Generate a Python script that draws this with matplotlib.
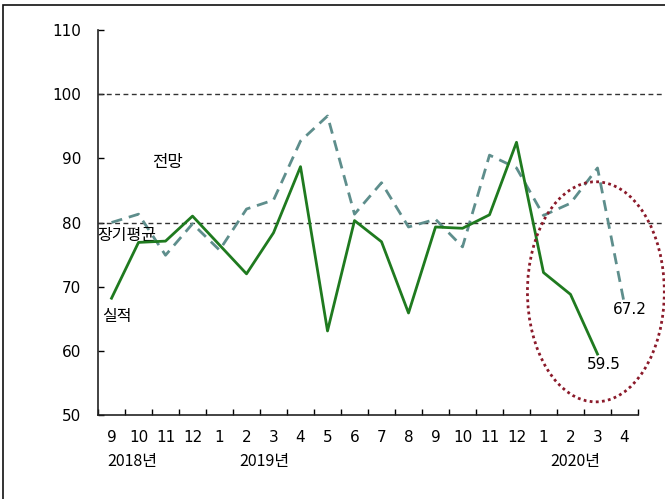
import matplotlib.pyplot as plt
from matplotlib.patches import Ellipse, Rectangle

plt.rcParams['font.family'] = ['Noto Sans CJK KR', 'DejaVu Sans']

# 월별 값 (2018.9 ~ 2020.4)
months = ['9', '10', '11', '12', '1', '2', '3', '4', '5', '6', '7', '8',
          '9', '10', '11', '12', '1', '2', '3', '4']
actual = [68.2, 76.9, 77.1, 81.0, 76.5, 72.0, 78.4, 88.7, 63.1, 80.3,
          77.0, 65.9, 79.3, 79.1, 81.2, 92.5, 72.2, 68.8, 59.5]
outlook = [80.0, 81.3, 74.9, 79.8, 75.7, 82.1, 83.5, 92.7, 96.6, 81.3,
           86.2, 79.3, 80.5, 76.2, 90.5, 88.5, 81.1, 83.0, 88.5, 67.2]
long_avg = 80
base_line = 100
years = ['2018년', '2019년', '2020년']

num_font = dict(family='DejaVu Sans', size=11)

fig = plt.figure(figsize=(6.65, 4.99), dpi=100)
ax = fig.add_axes([0.1474, 0.1683, 0.812, 0.7716])

x_act = list(range(len(actual)))
x_out = list(range(len(outlook)))

# 기준선 (100, 장기평균)
for v in (base_line, long_avg):
    ax.plot([-0.5, 20.45], [v, v], color='#333333', lw=1.0,
            dashes=(3.5, 2.5), clip_on=False, zorder=2)

ax.plot(x_out, outlook, color='#5E8E8C', lw=2.0, dashes=(4, 2.5), zorder=3)
ax.plot(x_act, actual, color='#1F7A1F', lw=2.0, zorder=4)

ax.set_xlim(-0.5, len(months) - 0.5)
ax.set_ylim(50, 110)
ax.set_yticks(range(50, 111, 10))
ax.set_yticklabels([str(v) for v in range(50, 111, 10)], fontdict=num_font)
ax.set_xticks(range(len(months)))
ax.set_xticklabels(months, fontdict=num_font)
ax.set_xticks([i + 0.5 for i in range(-1, len(months))], minor=True)
ax.tick_params(axis='x', which='major', length=0, pad=11)
ax.tick_params(axis='x', which='minor', direction='in', length=4, width=1)
ax.tick_params(axis='y', direction='in', length=4, width=1, pad=12)
for s in ('top', 'right'):
    ax.spines[s].set_visible(False)
for s in ('left', 'bottom'):
    ax.spines[s].set_linewidth(1.2)
    ax.spines[s].set_color('#222222')

# 최근 구간 강조
ax.add_patch(Ellipse((17.94, 69.2), 5.07, 34.3, fill=False,
                     edgecolor='#8B1A2A', lw=2.0, ls=(0, (1, 1.2)),
                     clip_on=False, zorder=5))

ax.text(2.09, 89.3, '전망', fontsize=12, ha='center', va='center')
ax.text(0.57, 77.9, '장기평균', fontsize=11.5, ha='center', va='center')
ax.text(0.2, 65.3, '실적', fontsize=11.5, ha='center', va='center')
ax.text(19.2, outlook[-1] - 0.8, f'{outlook[-1]}', fontdict=num_font,
        ha='center', va='center')
ax.text(18.24, actual[-1] - 1.6, f'{actual[-1]}', fontdict=num_font,
        ha='center', va='center')

for name, xp in zip(years, [0.76, 5.67, 17.17]):
    ax.text(xp, 42.7, name, fontsize=11.5, ha='center', va='center',
            clip_on=False)

# 바깥 테두리
fig.patches.append(Rectangle((3 / 665, -0.01), 1.0, 1 - 5 / 499 + 0.01,
                             transform=fig.transFigure, fill=False,
                             edgecolor='#111111', lw=1.2))

fig.savefig('out.png', dpi=100)
